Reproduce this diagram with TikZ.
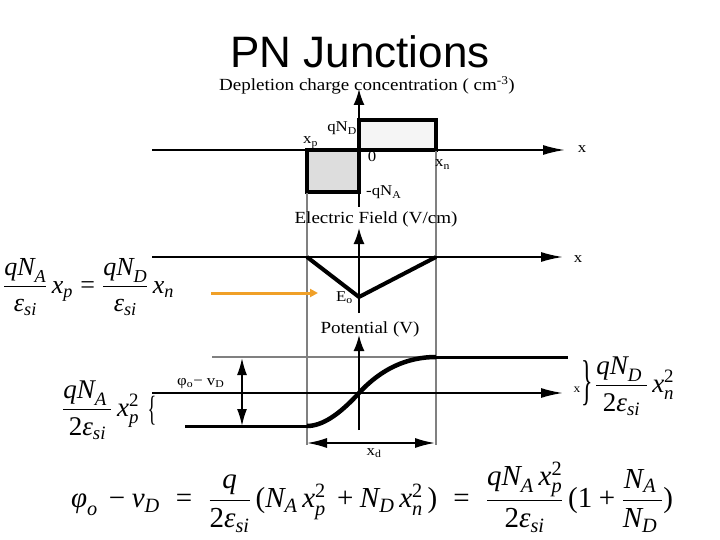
\RequirePackage{fix-cm}
\documentclass[tikz,border=0pt]{standalone}
\usepackage{amsmath}
\usepackage{fontspec}
\setmainfont{Liberation Serif}
\newfontfamily\titlefont{Liberation Sans}
\newfontfamily\labfont[FakeStretch=1.12]{Liberation Serif}
\usetikzlibrary{arrows.meta}
\newcommand\mv[1]{\text{\itshape #1}}
\newcommand\mup[1]{\text{\upshape #1}}
\newcommand\eqs{\mathrel{\;\mup{=}\;}}
\definecolor{posfill}{HTML}{F5F5F5}
\definecolor{negfill}{HTML}{DDDDDD}
\definecolor{orng}{HTML}{F0A028}
\tikzset{
  axis/.style={line width=1.8pt, -{Latex[length=22pt,width=10pt]}},
  vaxis/.style={line width=1.8pt, -{Latex[length=16pt,width=11pt]}},
  boxline/.style={line width=3.2pt},
  gline/.style={draw=gray, line width=1.4pt},
  lab/.style={font=\labfont\fontsize{15}{18}\selectfont, inner sep=0},
  head/.style={font=\labfont\fontsize{17}{20}\selectfont, inner sep=0, anchor=base},
  eq/.style={font=\fontsize{26}{30}\selectfont, inner sep=0},
  dbl/.style={line width=1.8pt, {Latex[length=#1,width=10pt]}-{Latex[length=#1,width=10pt]}}
}
\begin{document}
\begin{tikzpicture}[x=1pt,y=-1pt]
\useasboundingbox (0,0) rectangle (720,540);
% title
\node[font=\titlefont\fontsize{44}{50}\selectfont, inner sep=0, anchor=base] (title) at (360,68) {PN Junctions};
% ---- charge
\node[head] (hcharge) at (367,91) {Depletion charge concentration ( cm\textsuperscript{-3})};
\draw[boxline, fill=posfill] (359,120) rectangle (436,150);
\draw[boxline, fill=negfill] (307,150) rectangle (359,192);
\draw[gline] (307,193) -- (307,445);
\draw[gline] (436,151) -- (436,445);
\draw[axis] (152,150) -- (565,150);
\draw[vaxis] (359,207) -- (359,89);
\node[lab, anchor=base east] (qnd) at (357,132) {qN\textsubscript{D}};
\node[lab, anchor=base west] (xp) at (303,144) {x\textsubscript{p}};
\node[lab, anchor=base] (zero) at (372,162) {0};
\node[lab, anchor=base west] (xn) at (435,167) {x\textsubscript{n}};
\node[lab, anchor=base west] (qna) at (366,196) {-qN\textsubscript{A}};
\node[lab, anchor=base] (x1) at (582,153) {x};
% ---- field
\node[head] (hfield) at (376,223) {Electric Field (V/cm)};
\draw[axis] (152,257) -- (563,257);
\draw[vaxis] (359,313) -- (359,228);
\draw[line width=4pt, line join=round] (307,257) -- (359,297) -- (436,257);
\node[lab, anchor=base west] (eo) at (336,301) {E\textsubscript{o}};
\node[lab, anchor=base] (x2) at (578,262) {x};
\draw[line width=3pt, draw=orng, -{Triangle[length=8pt,width=8pt]}] (211,293) -- (318,293);
\node[eq, anchor=west] (eq1) at (3,287) {$\dfrac{\mv{qN}_{\mv{A}}}{\mv{ε}_{\mv{si}}}\,\mv{x}_{\mv{p}}\mathrel{\mup{=}}\dfrac{\mv{qN}_{\mv{D}}}{\mv{ε}_{\mv{si}}}\,\mv{x}_{\mv{n}}$};
% ---- potential
\node[head] (hpot) at (370,333) {Potential (V)};
\draw[gline] (212,357) -- (436,357);
\draw[axis] (152,393) -- (563,393);
\draw[vaxis] (359,430) -- (359,335);
\draw[line width=3pt] (185,426) -- (309,426);
\draw[line width=3pt] (434,357) -- (568,357);
\draw[line width=4.5pt] (307,426) .. controls (322,426) and (339,415) .. (359,393) .. controls (381,369) and (407,357) .. (436,357);
\draw[dbl=17pt] (242,358) -- (242,426);
\draw[dbl=20pt] (307,443) -- (435,443);
\node[lab, anchor=base west] (phi) at (177,385) {φ\textsubscript{o}− v\textsubscript{D}};
\node[lab, anchor=base] (xd) at (374,455) {x\textsubscript{d}};
\node[lab, anchor=base, font=\labfont\fontsize{12}{14}\selectfont] (x3) at (577,392) {x};
\node[eq, anchor=west, font=\fontsize{27}{30}\selectfont] (eq2) at (62,410) {$\dfrac{\mv{qN}_{\mv{A}}\,}{\mup{2}\mv{ε}_{\mv{si}}}\,\mv{x}_{\mv{p}}^{\mup{2}}$};
\node[inner sep=0] (lbrace) at (152,411) {\scalebox{0.7}[1.35]{\fontsize{26}{26}\selectfont\{}};
\node[inner sep=0] (rbrace) at (587,383) {\scalebox{0.85}[1.95]{\fontsize{28}{28}\selectfont\}}};
\node[eq, anchor=west, font=\fontsize{27}{30}\selectfont] (eq3) at (595,386) {$\dfrac{\mv{qN}_{\mv{D}}\,}{\mup{2}\mv{ε}_{\mv{si}}}\,\mv{x}_{\mv{n}}^{\mup{2}}$};
% ---- bottom equation
\node[eq, font=\fontsize{29}{32}\selectfont] (eq4) at (372,497) {$\mv{φ}_{\mv{o}}\,\mathbin{\mup{−}}\mv{v}_{\mv{D}}\eqs\dfrac{\mv{q}}{\mup{2}\mv{ε}_{\mv{si}}}\,\mup{(}\mv{N}_{\mv{A}}\,\mv{x}_{\mv{p}}^{\mup{2}}\,\mathbin{\mup{+}}\mv{N}_{\mv{D}}\,\mv{x}_{\mv{n}}^{\mup{2}}\,\mup{)}\eqs\dfrac{\mv{qN}_{\mv{A}}\,\mv{x}_{\mv{p}}^{\mup{2}}}{\mup{2}\mv{ε}_{\mv{si}}}\,\mup{(1}\mathbin{\mup{+}}\dfrac{\mv{N}_{\mv{A}}\,}{\mv{N}_{\mv{D}}\,}\mup{)}$};
\end{tikzpicture}
\end{document}
